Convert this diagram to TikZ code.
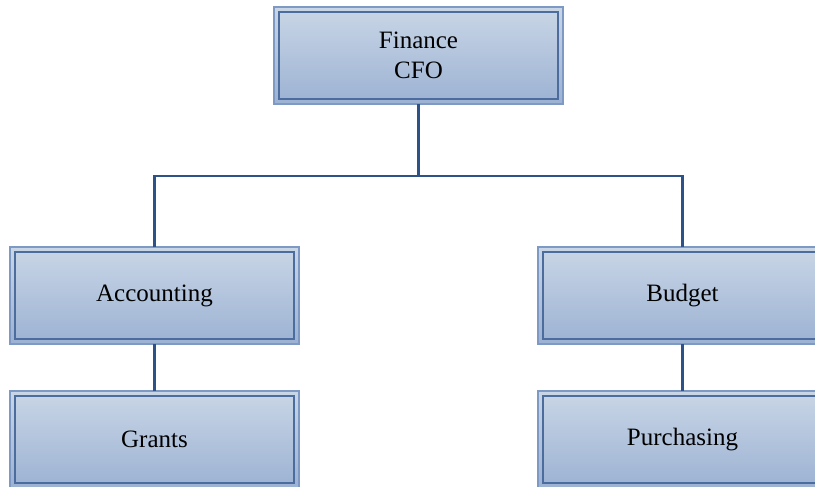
\documentclass[tikz,border=0pt]{standalone}
\usepackage{fontspec}
\setmainfont{Liberation Serif}
\definecolor{boxtop}{HTML}{C9D6E6}
\definecolor{boxbot}{HTML}{9CB2D3}
\definecolor{outerline}{HTML}{7E99C3}
\definecolor{innerline}{HTML}{4C6C9D}
\definecolor{linkline}{HTML}{2D5287}
\tikzset{
  unit/.style={
    rectangle, minimum width=289pt, minimum height=97pt,
    inner sep=0pt, outer sep=0pt,
    top color=boxtop, bottom color=boxbot,
    draw=outerline, line width=1.4pt,
    align=center, font=\fontsize{25}{30}\selectfont, text=black,
    path picture={
      \draw[innerline, line width=1.4pt]
        ([shift={(5pt,-5pt)}]path picture bounding box.north west) rectangle
        ([shift={(-5pt,5pt)}]path picture bounding box.south east);
    }
  },
  link/.style={draw=linkline, line width=2.6pt}
}
\begin{document}
\begin{tikzpicture}[x=1pt,y=-1pt]
  \useasboundingbox (0,0) rectangle (815,487);
  \clip (0,0) rectangle (815,487);
  % connectors behind the boxes
  \coordinate (bus) at (418.5,176);
  \node[unit] (cfo) at (418.5,55.5) {Finance\\CFO};
  \node[unit] (acct) at (154.5,295.5) {Accounting};
  \node[unit] (budget) at (682.5,295.5) {Budget};
  \node[unit] (grants) at (154.5,439.5) {Grants};
  \node[unit] (purch) at (682.5,439.5) {Purchasing};
  \draw[link] (cfo.south) -- (bus);
  \draw[link] (acct.north) |- (bus) -| (budget.north);
  \draw[link] (acct.south) -- (grants.north);
  \draw[link] (budget.south) -- (purch.north);
\end{tikzpicture}
\end{document}
